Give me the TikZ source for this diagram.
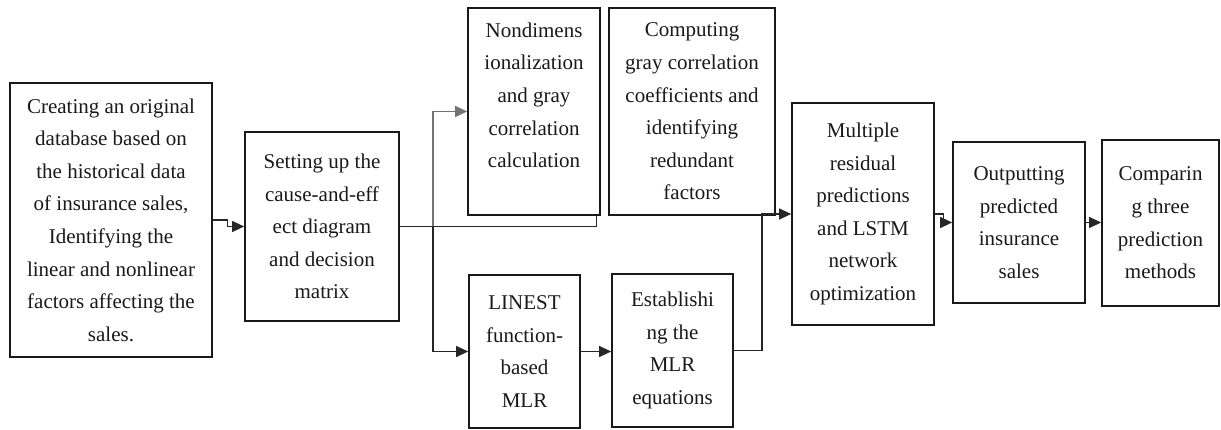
\documentclass[tikz,border=0pt]{standalone}
\usepackage{fontspec}
\setmainfont{Liberation Serif}
\newfontfamily\boxfont{Liberation Serif}
\usetikzlibrary{arrows.meta}
\begin{document}
\begin{tikzpicture}[x=1pt,y=-1pt,
  stepbox/.style={draw=black!90, line width=1.7pt, align=center, inner sep=0pt,
    font=\boxfont\fontsize{21}{32.6}\selectfont, text=black!90},
  conn/.style={draw=black!85, line width=1.1pt,
    -{Triangle[length=12pt,width=11pt]}},
  link/.style={draw=black!85, line width=1.1pt}]
\useasboundingbox (0,0) rectangle (1221,430);

% process boxes (centre, width, height in px units)
\node[stepbox, minimum width=202pt, minimum height=274pt] (b1) at (111,220)
  {Creating an original\\database based on\\the historical data\\of insurance sales,\\Identifying the\\linear and nonlinear\\factors affecting the\\sales.};
\node[stepbox, minimum width=154pt, minimum height=189pt] (b2) at (322,226.5)
  {Setting up the\\cause-and-eff\\ect diagram\\and decision\\matrix};
\node[stepbox, minimum width=132pt, minimum height=207pt] (b3) at (534,111.5)
  {Nondimens\\ionalization\\and gray\\correlation\\calculation\\~};
\node[stepbox, minimum width=166pt, minimum height=207pt] (b4) at (692,111.5)
  {Computing\\gray correlation\\coefficients and\\identifying\\redundant\\factors};
\node[stepbox, minimum width=111pt, minimum height=153pt] (b5) at (524.5,351.5)
  {LINEST\\function-\\based\\MLR};
\node[stepbox, minimum width=121pt, minimum height=153pt] (b6) at (672.5,350.5)
  {Establishi\\ng the\\MLR\\equations};
\node[stepbox, minimum width=142pt, minimum height=222pt] (b7) at (863,214)
  {Multiple\\residual\\predictions\\and LSTM\\network\\optimization};
\node[stepbox, minimum width=132pt, minimum height=161pt] (b8) at (1019,222.5)
  {Outputting\\predicted\\insurance\\sales};
\node[stepbox, minimum width=117pt, minimum height=166pt] (b9) at (1160.5,223)
  {Comparin\\g three\\prediction\\methods};

% junction points of the connectors
\coordinate (br) at (433,226.5);
\coordinate (jn) at (762,214);

% connectors
\draw[conn] (b1.east) -- ++(15,0) |- (b2.west);
\draw[link] (b2.east) -| ([xshift=-4pt]b3.south east);
\draw[conn, draw=black!55] (br) |- (b3.west);
\draw[conn] (br) |- (b5.west);
\draw[conn] (b5.east) -- (b5.east -| b6.west);
\draw[conn] (b6.east) -| (jn) -- (jn -| b7.west);
\draw[conn] (b7.east) -- ++(9,0) |- (b8.west);
\draw[conn] (b8.east) -- (b8.east -| b9.west);
\end{tikzpicture}
\end{document}
